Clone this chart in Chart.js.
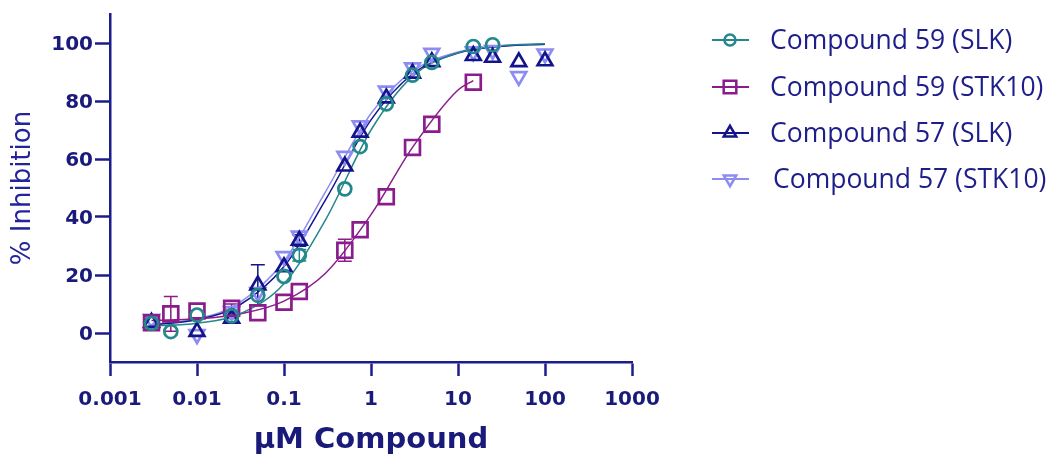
<!DOCTYPE html>
<html><head><meta charset="utf-8">
<script src="https://cdn.jsdelivr.net/npm/chart.js@4.4.1/dist/chart.umd.min.js"></script>
<style>html,body{margin:0;padding:0;background:#fff;}#wrap{width:1061px;height:459px;position:relative;}</style>
</head><body><div id="wrap"><canvas id="c" width="1061" height="459"></canvas></div>
<script>
// ---- data ----
const xTicks = [0.001, 0.01, 0.1, 1, 10, 100, 1000];
const xTickLabels = ['0.001', '0.01', '0.1', '1', '10', '100', '1000'];
const yTicks = [0, 20, 40, 60, 80, 100];

const seriesNames = ['Compound 59 (SLK)', 'Compound 59 (STK10)', 'Compound 57 (SLK)', 'Compound 57 (STK10)'];

const c59slkX = [0.003, 0.005, 0.01, 0.025, 0.05, 0.1, 0.15, 0.5, 0.75, 1.5, 3, 5, 15, 25];
const c59slkY = [3.3, 0.5, 6.2, 5.9, 13, 19.5, 26.8, 49.7, 64.3, 79, 88.9, 93.3, 98.8, 99.4];
const c59slkErr = [0, 0, 0, 1, 0, 0, 2, 0, 0, 0, 0, 0, 0, 0];

const c59stkX = [0.003, 0.005, 0.01, 0.025, 0.05, 0.1, 0.15, 0.5, 0.75, 1.5, 3, 5, 15];
const c59stkY = [3.5, 6.6, 7.6, 8.5, 7, 10.6, 14.3, 28.5, 35.6, 47, 64, 72, 86.5];
const c59stkErr = [0, 6, 0, 1.5, 0, 0, 0, 3.8, 0, 0, 0, 0, 0];

const c57slkX = [0.003, 0.01, 0.025, 0.05, 0.1, 0.15, 0.5, 0.75, 1.5, 3, 5, 15, 25, 50, 100];
const c57slkY = [3.6, 0.5, 5, 16.5, 22.8, 31.9, 57.5, 69.2, 81, 89.5, 93.5, 95.6, 95, 93.5, 93.8];
const c57slkErr = [0, 0, 0, 7, 0, 2, 0, 0, 0, 0, 0, 0, 0, 0, 0];

const c57stkX = [0.003, 0.01, 0.025, 0.05, 0.1, 0.15, 0.5, 0.75, 1.5, 3, 5, 15, 25, 50, 100];
const c57stkY = [4.8, -0.5, 7.5, 14, 26.4, 33.5, 61, 71.5, 83.5, 91.5, 96.5, 97, 97.5, 88.5, 96.3];
const c57stkErr = [0, 0, 0, 0, 0, 0, 0, 0, 0, 0, 0, 0, 0, 0, 0];

// fitted curves
const fitX = [0.003, 0.01, 0.03, 0.1, 0.3, 1, 3, 10, 30, 100];
const fit59slkY = [2.4, 3.4, 6.4, 17, 39, 70, 88.5, 96.6, 99, 99.7];
const fit57slkY = [2.8, 4.6, 9.4, 22.9, 45.9, 73.5, 89.3, 96.5, 98.8, 99.6];
const fit57stkY = [2.9, 4.9, 10.2, 24.8, 48.7, 75.7, 90.3, 96.9, 98.9, 99.7];
const fit59stkX = [0.003, 0.01, 0.03, 0.1, 0.3, 1, 3, 10, 15];
const fit59stkY = [4.3, 4.9, 6.5, 11, 20.6, 40.8, 64, 83.8, 87];

// ---- styles ----
const NAVY = '#1c1c8c';
const TXT = '#1a1a7a';
const colors = ['#23878c', '#8b1c8b', '#14148a', '#8c8cf2'];
const styles = [
  {pointStyle: 'circle', radius: 6.5, rotation: 0},
  {pointStyle: 'rect', radius: 10.5, rotation: 0},
  {pointStyle: 'triangle', radius: 8.5, rotation: 0},
  {pointStyle: 'triangle', radius: 8.5, rotation: 180}
];

const zip = (xs, ys) => xs.map((x, i) => ({x: x, y: ys[i]}));
const ptSets = [[c59slkX, c59slkY, c59slkErr], [c59stkX, c59stkY, c59stkErr], [c57slkX, c57slkY, c57slkErr], [c57stkX, c57stkY, c57stkErr]];
const fitSets = [[fitX, fit59slkY], [fit59stkX, fit59stkY], [fitX, fit57slkY], [fitX, fit57stkY]];

const datasets = [];
ptSets.forEach((s, i) => {
  datasets.push({
    label: seriesNames[i], data: zip(s[0], s[1]), errors: s[2], showLine: false,
    pointStyle: styles[i].pointStyle, pointRadius: styles[i].radius, pointRotation: styles[i].rotation,
    pointBorderColor: colors[i], pointBackgroundColor: 'rgba(0,0,0,0)', pointBorderWidth: 2.7,
    pointHoverRadius: styles[i].radius, borderColor: colors[i]
  });
});
fitSets.forEach((s, i) => {
  datasets.push({
    label: seriesNames[i] + ' fit', data: zip(s[0], s[1]), showLine: true, pointRadius: 0,
    borderColor: colors[i], borderWidth: 1.5, cubicInterpolationMode: 'monotone', fill: false
  });
});

const errorBars = {
  id: 'errorBars',
  beforeDatasetsDraw(chart) {
    const ctx = chart.ctx, xs = chart.scales.x, ys = chart.scales.y;
    chart.data.datasets.forEach(ds => {
      if (!ds.errors) return;
      ctx.save();
      ctx.strokeStyle = ds.borderColor; ctx.lineWidth = 1.5;
      ds.data.forEach((p, i) => {
        const e = ds.errors[i]; if (!e) return;
        const px = xs.getPixelForValue(p.x);
        const y1 = ys.getPixelForValue(p.y + e), y2 = ys.getPixelForValue(p.y - e);
        ctx.beginPath();
        ctx.moveTo(px, y1); ctx.lineTo(px, y2);
        ctx.moveTo(px - 7, y1); ctx.lineTo(px + 7, y1);
        ctx.moveTo(px - 7, y2); ctx.lineTo(px + 7, y2);
        ctx.stroke();
      });
      ctx.restore();
    });
  }
};

const legendRows = [40, 87, 133, 179];
const legendTextX = [770, 770, 770, 773];
const customLegend = {
  id: 'customLegend',
  afterDraw(chart) {
    const ctx = chart.ctx;
    ctx.save();
    seriesNames.forEach((name, i) => {
      const y = legendRows[i];
      ctx.strokeStyle = colors[i]; ctx.lineWidth = 2;
      ctx.beginPath(); ctx.moveTo(712, y); ctx.lineTo(749, y); ctx.stroke();
      ctx.fillStyle = 'rgba(0,0,0,0)'; ctx.lineWidth = 2.5;
      Chart.helpers.drawPoint(ctx, {pointStyle: styles[i].pointStyle, radius: styles[i].radius * 0.85, rotation: styles[i].rotation, borderWidth: 2.5}, 730, y);
      ctx.fillStyle = '#1e1e8a';
      ctx.font = '26.5px "Open Sans"';
      ctx.textBaseline = 'middle'; ctx.textAlign = 'left';
      ctx.fillText(name, legendTextX[i], y + 1);
    });
    ctx.restore();
  }
};

new Chart(document.getElementById('c'), {
  type: 'scatter',
  data: {datasets: datasets},
  plugins: [errorBars, customLegend],
  options: {
    responsive: false, animation: false, devicePixelRatio: 1,
    layout: {padding: {left: 0, top: 14, right: 429, bottom: 0}},
    plugins: {legend: {display: false}, tooltip: {enabled: false}},
    scales: {
      x: {
        type: 'logarithmic', min: 0.001, max: 1000,
        afterBuildTicks: s => { s.ticks = xTicks.map(v => ({value: v, major: true})); },
        afterFit: s => { s.height = 97; },
        ticks: {callback: (v, i) => xTickLabels[i], font: {family: 'DejaVu Sans', weight: 'bold', size: 20}, color: TXT, padding: 12, maxRotation: 0, autoSkip: false},
        grid: {drawOnChartArea: false, drawTicks: true, tickLength: 14, tickWidth: 2.5, tickColor: NAVY},
        border: {display: true, color: NAVY, width: 2.5},
        title: {display: true, text: 'µM Compound', font: {family: 'DejaVu Sans', weight: 'bold', size: 29}, color: TXT, padding: {top: 0, bottom: 1}}
      },
      y: {
        min: -10, max: 110,
        afterBuildTicks: s => { s.ticks = yTicks.map(v => ({value: v})); },
        afterFit: s => { s.width = 110; },
        ticks: {callback: v => String(v), font: {family: 'DejaVu Sans', weight: 'bold', size: 20}, color: TXT, padding: 2, labelOffset: 1.5},
        grid: {drawOnChartArea: false, drawTicks: true, tickLength: 15, tickWidth: 2.5, tickColor: NAVY},
        border: {display: true, color: NAVY, width: 2.5},
        title: {display: true, text: '% Inhibition', font: {family: 'DejaVu Sans', size: 26}, color: '#24249a', padding: {top: 8, bottom: 0}}
      }
    }
  }
});
</script></body></html>
